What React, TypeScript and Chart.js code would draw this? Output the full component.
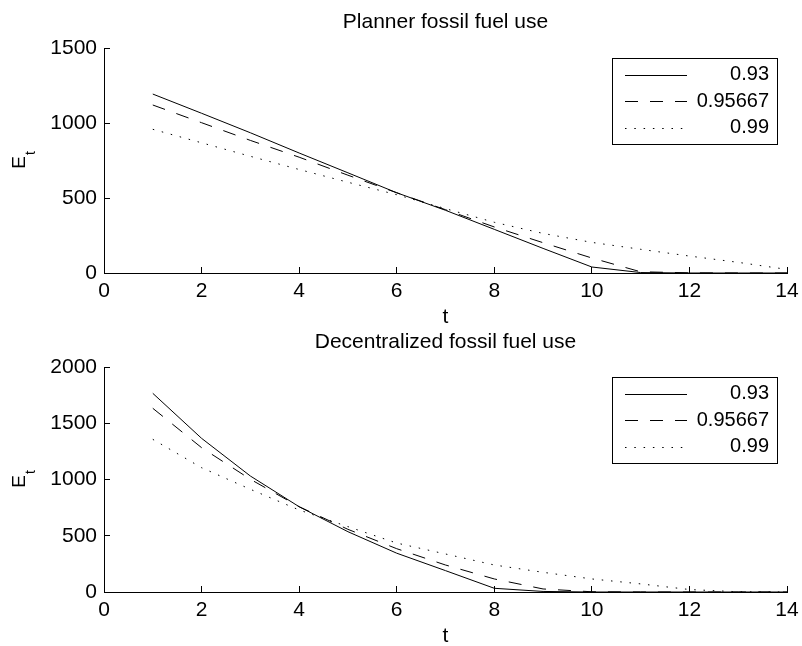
import React, { useEffect, useRef } from "react";
import { Chart, registerables } from "chart.js";

Chart.register(...registerables);

// ---------------- data ----------------
const tValues = [1, 2, 3, 4, 5, 6, 7, 8, 9, 10, 11, 12, 13, 14];
const seriesLabels = ["0.93", "0.95667", "0.99"];

const plannerBeta093 = [1193, 1065, 935, 800, 668, 535, 418, 291, 164, 40, 3, 0, 0, 0];
const plannerBeta0957 = [1120, 1002, 884, 772, 652, 535, 422, 307, 202, 100, 8, 1, 0, 0];
const plannerBeta099 = [958, 868, 778, 690, 605, 522, 429, 338, 264, 204, 158, 113, 71, 24];

const decentBeta093 = [1766, 1366, 1031, 758, 536, 345, 190, 33, 5, 0, 0, 0, 0, 0];
const decentBeta0957 = [1633, 1283, 1002, 758, 557, 385, 240, 116, 27, 2, 0, 0, 0, 0];
const decentBeta099 = [1357, 1105, 913, 729, 581, 435, 338, 240, 175, 116, 72, 22, 2, 0];

const xTickValues = [0, 2, 4, 6, 8, 10, 12, 14];
const plannerYTicks = [0, 500, 1000, 1500];
const decentYTicks = [0, 500, 1000, 1500, 2000];

const plannerTitle = "Planner fossil fuel use";
const decentTitle = "Decentralized fossil fuel use";
const xAxisTitle = "t";
const yAxisMain = "E";
const yAxisSub = "t";

// ---------------- styles ----------------
const FONT = "'Liberation Sans', Arial, Helvetica, sans-serif";
const lineDashes: number[][] = [[], [13, 12], [1.5, 7.8]];

const legendPlugin = {
  id: "matlabLegend",
  afterDraw(chart: any, _args: any, opts: any) {
    const { ctx, chartArea } = chart;
    const right = Math.round(chartArea.right - opts.marginRight);
    const top = Math.round(chartArea.top + opts.marginTop);
    const left = right - opts.width;
    ctx.save();
    ctx.fillStyle = "#fff";
    ctx.fillRect(left, top, opts.width, opts.height);
    ctx.strokeStyle = "#000";
    ctx.lineWidth = 1;
    ctx.setLineDash([]);
    ctx.strokeRect(left + 0.5, top + 0.5, opts.width, opts.height);
    chart.data.datasets.forEach((ds: any, i: number) => {
      const cy = top + opts.rowStart + i * opts.rowGap;
      ctx.beginPath();
      ctx.setLineDash(ds.borderDash || []);
      ctx.lineWidth = 1;
      ctx.strokeStyle = "#000";
      ctx.moveTo(left + opts.lineStart, Math.round(cy) + 0.5);
      ctx.lineTo(left + opts.lineStart + opts.lineLength, Math.round(cy) + 0.5);
      ctx.stroke();
      ctx.setLineDash([]);
      ctx.font = `${opts.fontSize}px ${FONT}`;
      ctx.fillStyle = "#000";
      ctx.textAlign = "right";
      ctx.textBaseline = "middle";
      ctx.fillText(ds.label, right - opts.textRight, cy);
    });
    ctx.restore();
  },
};

const yTitlePlugin = {
  id: "yTitleSub",
  afterDraw(chart: any, _args: any, opts: any) {
    const { ctx, chartArea } = chart;
    const cy = (chartArea.top + chartArea.bottom) / 2;
    ctx.save();
    ctx.translate(opts.x, cy);
    ctx.rotate(-Math.PI / 2);
    ctx.fillStyle = "#000";
    ctx.textAlign = "left";
    ctx.textBaseline = "alphabetic";
    ctx.font = `${opts.mainSize}px ${FONT}`;
    const wMain = ctx.measureText(opts.main).width;
    ctx.font = `${opts.subSize}px ${FONT}`;
    const wSub = ctx.measureText(opts.sub).width;
    const start = -(wMain + wSub) / 2;
    ctx.font = `${opts.mainSize}px ${FONT}`;
    ctx.fillText(opts.main, start, 0);
    ctx.font = `${opts.subSize}px ${FONT}`;
    ctx.fillText(opts.sub, start + wMain + 1, opts.subDrop);
    ctx.restore();
  },
};

interface PanelParams {
  title: string;
  series: number[][];
  yMax: number;
  yTicks: number[];
  titleTop: number;
  titleBottom: number;
  xAxisHeight: number;
  xTitleBottom: number;
}

function buildConfig(p: PanelParams): any {
  const tickFont = { family: FONT, size: 21, lineHeight: 1.2 };
  const grid = {
    drawOnChartArea: false,
    drawTicks: true,
    tickLength: -6,
    color: "#000",
    lineWidth: 1,
  };
  const border = { display: true, color: "#000", width: 1 };
  const plainLabel = (v: any) => String(v);
  return {
    type: "line",
    data: {
      datasets: p.series.map((vals, i) => ({
        label: seriesLabels[i],
        data: tValues.map((t, j) => ({ x: t, y: vals[j] })),
        borderColor: "#000",
        backgroundColor: "#000",
        borderWidth: 1,
        borderDash: lineDashes[i],
        pointRadius: 0,
        tension: 0,
        fill: false,
      })),
    },
    options: {
      responsive: false,
      animation: false,
      events: [],
      layout: { padding: { left: 0, right: 15, top: 0, bottom: 0 } },
      plugins: {
        legend: { display: false },
        tooltip: { enabled: false },
        title: {
          display: true,
          text: p.title,
          fullSize: false,
          color: "#000",
          font: { family: FONT, size: 21, weight: "normal", lineHeight: 1.2 },
          padding: { top: p.titleTop, bottom: p.titleBottom },
        },
        matlabLegend: {
          marginTop: 10,
          marginRight: 10,
          width: 165,
          height: 86,
          rowStart: 16.5,
          rowGap: 26.5,
          lineStart: 13,
          lineLength: 62,
          textRight: 8,
          fontSize: 20,
        },
        yTitleSub: {
          x: 25,
          main: yAxisMain,
          sub: yAxisSub,
          mainSize: 19,
          subSize: 14,
          subDrop: 10,
        },
      },
      scales: {
        x: {
          type: "linear",
          min: 0,
          max: 14,
          afterBuildTicks: (s: any) => {
            s.ticks = xTickValues.map((v) => ({ value: v }));
          },
          ticks: {
            color: "#000",
            font: tickFont,
            padding: 12,
            maxRotation: 0,
            autoSkip: false,
            callback: plainLabel,
          },
          grid,
          border,
          title: {
            display: true,
            text: xAxisTitle,
            color: "#000",
            font: tickFont,
            padding: { top: 0, bottom: p.xTitleBottom },
          },
          afterFit: (s: any) => {
            s.height = p.xAxisHeight;
            s.paddingLeft = 0;
            s.paddingRight = 0;
          },
        },
        y: {
          type: "linear",
          min: 0,
          max: p.yMax,
          afterBuildTicks: (s: any) => {
            s.ticks = p.yTicks.map((v) => ({ value: v }));
          },
          ticks: { color: "#000", font: tickFont, padding: 13, autoSkip: false, callback: plainLabel },
          grid,
          border,
          afterFit: (s: any) => {
            s.width = 104;
            s.paddingTop = 0;
            s.paddingBottom = 0;
          },
        },
      },
    },
    plugins: [legendPlugin, yTitlePlugin],
  };
}

export default function App() {
  const topRef = useRef<HTMLCanvasElement>(null);
  const botRef = useRef<HTMLCanvasElement>(null);

  useEffect(() => {
    const a = new Chart(
      topRef.current as HTMLCanvasElement,
      buildConfig({
        title: plannerTitle,
        series: [plannerBeta093, plannerBeta0957, plannerBeta099],
        yMax: 1500,
        yTicks: plannerYTicks,
        titleTop: 10,
        titleBottom: 12.8,
        xAxisHeight: 67,
        xTitleBottom: 10,
      })
    );
    const b = new Chart(
      botRef.current as HTMLCanvasElement,
      buildConfig({
        title: decentTitle,
        series: [decentBeta093, decentBeta0957, decentBeta099],
        yMax: 2000,
        yTicks: decentYTicks,
        titleTop: 30,
        titleBottom: 11.8,
        xAxisHeight: 64,
        xTitleBottom: 7,
      })
    );
    return () => {
      a.destroy();
      b.destroy();
    };
  }, []);

  return (
    <div
      style={{
        position: "absolute",
        left: 0,
        top: 0,
        width: 802,
        height: 646,
        overflow: "hidden",
        background: "#fff",
      }}
    >
      <canvas
        ref={topRef}
        width={802}
        height={340}
        style={{ position: "absolute", left: 0, top: 0, width: 802, height: 340 }}
      />
      <canvas
        ref={botRef}
        width={802}
        height={356}
        style={{ position: "absolute", left: 0, top: 300, width: 802, height: 356 }}
      />
    </div>
  );
}
